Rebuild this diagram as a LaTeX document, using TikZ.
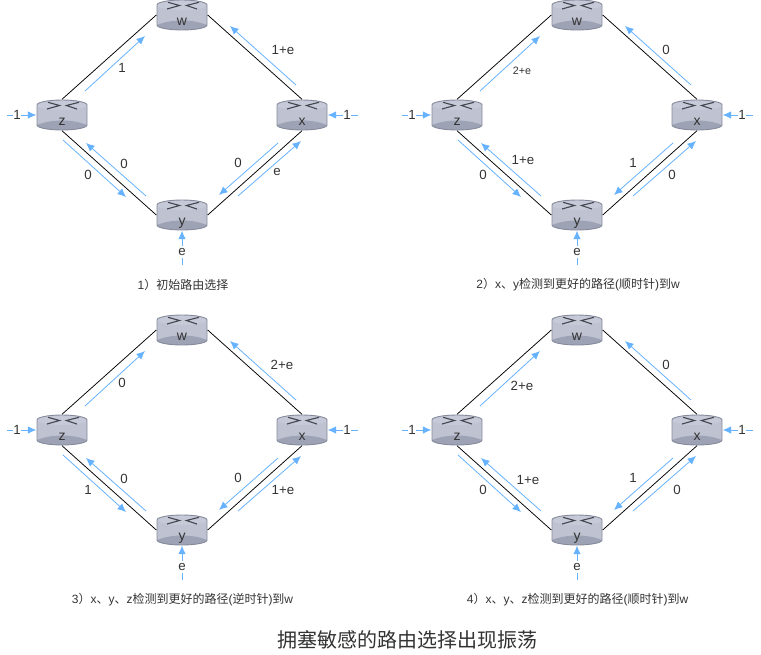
\documentclass[tikz,border=0pt]{standalone}
\usepackage{fontspec}
\usepackage{xcolor}
\usepackage{tikz}
\usetikzlibrary{positioning,arrows.meta,calc}
\setmainfont{Liberation Sans}
\newfontfamily\cjk{Noto Sans CJK SC}
\definecolor{NETblue}{HTML}{66B2FF}
\definecolor{NETtext}{HTML}{333333}
\definecolor{NETbody}{HTML}{BEC2D1}
\definecolor{NETtop}{HTML}{C6C9D7}
\definecolor{NETband}{HTML}{9DA2B4}
\definecolor{NETrim}{HTML}{868B9C}
\definecolor{NETmark}{HTML}{44474F}
\newcommand{\routerface}{%
  \fill[NETbody] (-25,-10) -- (-25,10) arc[start angle=180, end angle=0, x radius=25, y radius=5] -- (25,-10) arc[start angle=0, end angle=-180, x radius=25, y radius=5] -- cycle;
  \fill[NETband] (-25,10) .. controls (-10,4) and (10,4) .. (25,10) arc[start angle=0, end angle=180, x radius=25, y radius=5] -- cycle;
  \fill[NETtop] (0,-10) ellipse[x radius=25, y radius=5];
  \draw[NETrim, line width=0.9pt] (-25,-10) -- (-25,10) arc[start angle=180, end angle=0, x radius=25, y radius=5] -- (25,-10) arc[start angle=0, end angle=-180, x radius=25, y radius=5] -- cycle;
  \draw[NETmark, line width=1.1pt] (-14,-12.7) -- (-2.5,-9.5) -- (-15,-6);
  \draw[NETmark, line width=1.1pt] (17,-12.7) -- (4.5,-9.5) -- (15,-6);
}
\tikzset{
  routerbox/.style={rectangle, inner sep=0pt, minimum width=51pt, minimum height=31pt, path picture={\begin{scope}[shift={(path picture bounding box.center)}]\routerface\end{scope}}},
  routertext/.style={anchor=base, inner sep=0pt, font=\fontsize{14}{16}\selectfont, text=NETtext},
  linkline/.style={draw=black, line width=0.75pt},
  flowarr/.style={-{Latex[length=8.5pt,width=7.5pt]}, draw=NETblue, line width=0.8pt},
  costlabel/.style={inner sep=0.5pt, font=\fontsize{13.3}{16}\selectfont, text=NETtext},
  smalllabel/.style={costlabel, font=\fontsize{10.7}{13}\selectfont},
  inlabel/.style={costlabel, fill=white, inner xsep=0.5pt, inner ysep=2.5pt},
  caption/.style={inner sep=0pt, font=\fontsize{12}{14}\selectfont, text=NETtext}
}
\newcommand{\netpanel}[1]{%
  \node[routerbox] (w#1) at (182,15) {};
  \node[routerbox] (z#1) at (62,115) {};
  \node[routerbox] (x#1) at (302,115) {};
  \node[routerbox] (y#1) at (182,215) {};
  \node[routertext] (wt#1) at (182,25) {w};
  \node[routertext] (zt#1) at (62,125) {z};
  \node[routertext] (xt#1) at (302,125) {x};
  \node[routertext] (yt#1) at (182,225) {y};
  \draw[linkline] (z#1.north) -- (w#1.west);
  \draw[linkline] (x#1.north) -- (w#1.east);
  \draw[linkline] (z#1.south) -- (y#1.west);
  \draw[linkline] (x#1.south) -- (y#1.east);
  \foreach \nm/\ax/\ay/\bx/\by in {zw/85/91/145/36, xw/296/85/230/26, zy/63/140/126/197, yz/146/196/86/143, xy/278/143/219/195, yx/238/196/301/141}{
    \coordinate (\nm#1s) at (\ax,\ay);
    \coordinate (\nm#1e) at (\bx,\by);
    \draw[flowarr] (\nm#1s) -- (\nm#1e);
  }
  % traffic entering the routers
  \coordinate (inz#1) at (7,115);
  \coordinate (inx#1) at (358,115);
  \coordinate (iny#1) at (182,265);
  \draw[flowarr] (inz#1) -- (z#1.west);
  \draw[flowarr] (inx#1) -- (x#1.east);
  \draw[flowarr] (iny#1) -- (y#1.south);
  \node[inlabel] (linz#1) at (17,115) {1};
  \node[inlabel] (linx#1) at (347,115) {1};
  \node[inlabel] (liny#1) at (182,252) {e};
}
\begin{document}
\begin{tikzpicture}[x=1pt,y=-1pt]
\useasboundingbox (0,0) rectangle (761,654);

% panel 1
\begin{scope}
\netpanel{A}
\node[costlabel] (lzwA) at (122,68) {1};
\node[costlabel] (lxwA) at (283,50) {1+e};
\node[costlabel] (lzyA) at (88,175) {0};
\node[costlabel] (lyzA) at (124,164) {0};
\node[costlabel] (lxyA) at (238,163) {0};
\node[costlabel] (lyxA) at (277,172) {e};
\node[caption] (capA) at (183,285) {1{\cjk ）初始路由选择}};
\end{scope}

% panel 2
\begin{scope}[shift={(395,0)}]
\netpanel{B}
\node[smalllabel] (lzwB) at (127,71) {2+e};
\node[costlabel] (lxwB) at (271,50) {0};
\node[costlabel] (lzyB) at (88,175) {0};
\node[costlabel] (lyzB) at (128,160) {1+e};
\node[costlabel] (lxyB) at (238,163) {1};
\node[costlabel] (lyxB) at (277,175) {0};
\node[caption] (capB) at (183,285) {2{\cjk ）}x{\cjk 、}y{\cjk 检测到更好的路径}({\cjk 顺时针}){\cjk 到}w};
\end{scope}

% panel 3
\begin{scope}[shift={(0,315)}]
\netpanel{C}
\node[costlabel] (lzwC) at (122,68) {0};
\node[costlabel] (lxwC) at (282,50) {2+e};
\node[costlabel] (lzyC) at (88,175) {1};
\node[costlabel] (lyzC) at (124,164) {0};
\node[costlabel] (lxyC) at (238,163) {0};
\node[costlabel] (lyxC) at (283,175) {1+e};
\node[caption] (capC) at (182.5,285) {3{\cjk ）}x{\cjk 、}y{\cjk 、}z{\cjk 检测到更好的路径}({\cjk 逆时针}){\cjk 到}w};
\end{scope}

% panel 4
\begin{scope}[shift={(395,315)}]
\netpanel{D}
\node[costlabel] (lzwD) at (127,71) {2+e};
\node[costlabel] (lxwD) at (271,50) {0};
\node[costlabel] (lzyD) at (88,175) {0};
\node[costlabel] (lyzD) at (133,165) {1+e};
\node[costlabel] (lxyD) at (238,163) {1};
\node[costlabel] (lyxD) at (282,175) {0};
\node[caption] (capD) at (182.5,285) {4{\cjk ）}x{\cjk 、}y{\cjk 、}z{\cjk 检测到更好的路径}({\cjk 顺时针}){\cjk 到}w};
\end{scope}

\node[caption, font=\fontsize{20}{24}\selectfont] (title) at (407.5,640) {\cjk 拥塞敏感的路由选择出现振荡};
\end{tikzpicture}
\end{document}
